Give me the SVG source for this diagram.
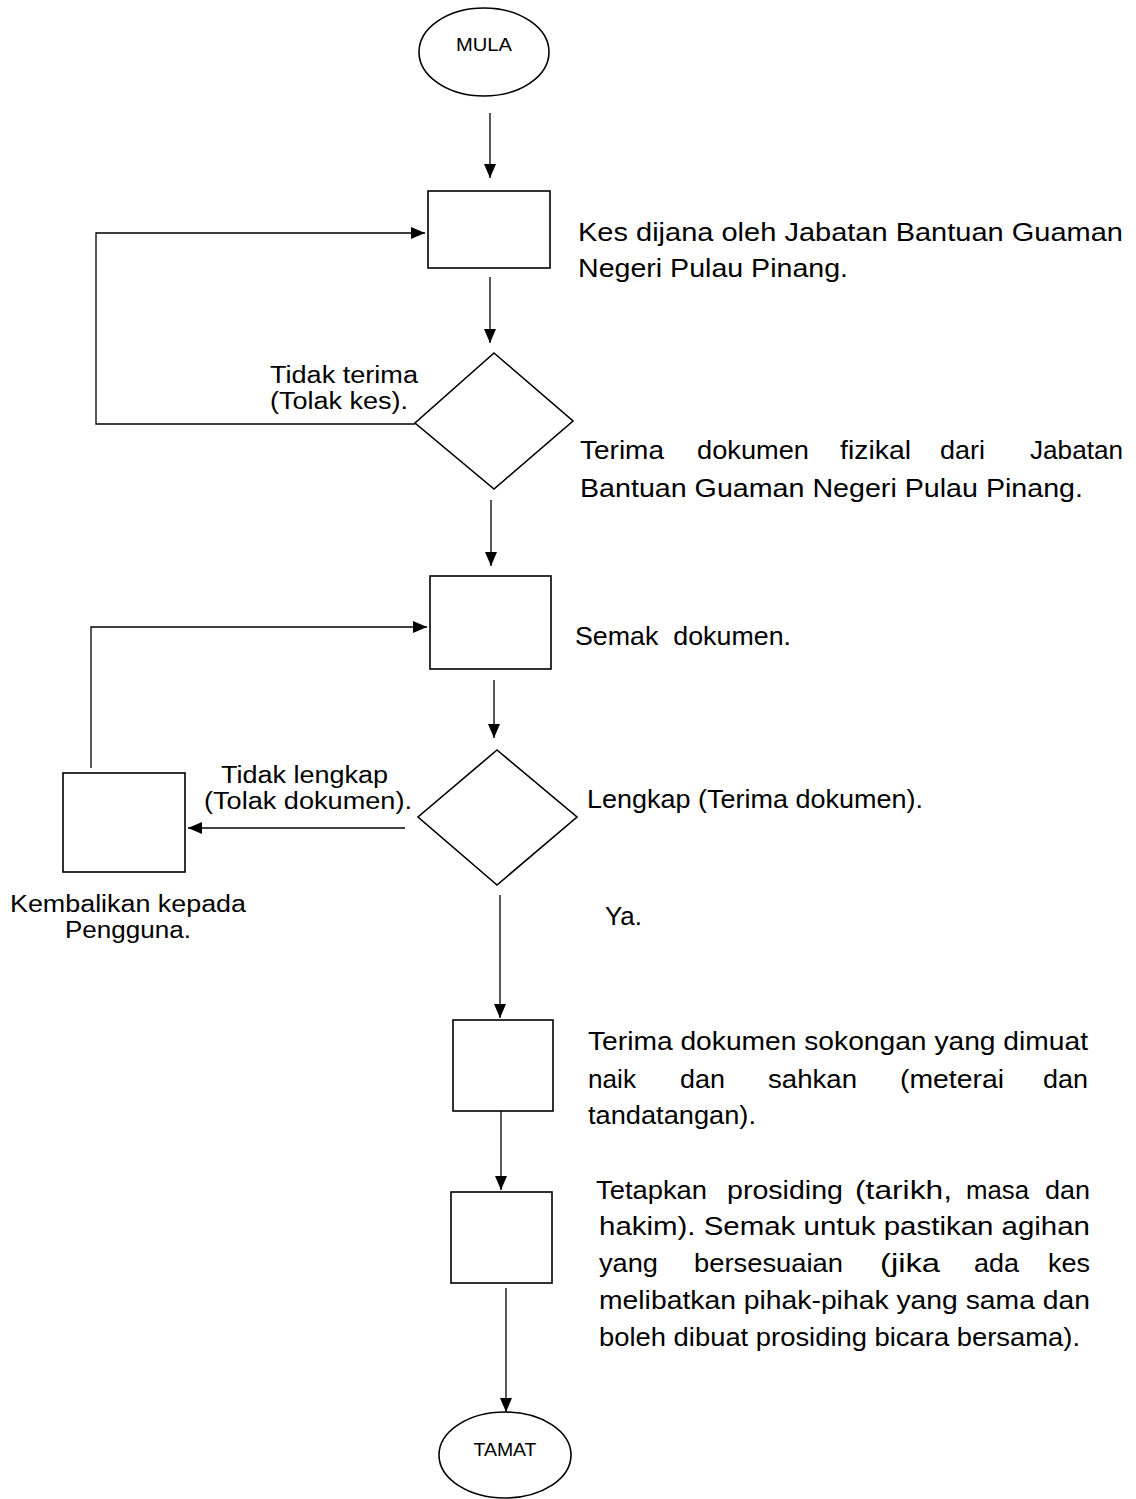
<svg xmlns="http://www.w3.org/2000/svg" width="1136" height="1499" viewBox="0 0 1136 1499">
<style>
.shape{fill:#fff;stroke:#000;stroke-width:1.6}
.conn{fill:none;stroke:#000;stroke-width:1.3}
text{font-family:"Liberation Sans",Arial,sans-serif;fill:#000}
.t{font-size:26px}
.l{font-size:23px}
.s{font-size:19px}
</style>
<defs>
<marker id="ah" markerUnits="userSpaceOnUse" markerWidth="14" markerHeight="12" refX="14" refY="6" orient="auto">
<path d="M0,0 L14,6 L0,12 z" fill="#000"/>
</marker>
</defs>
<rect width="1136" height="1499" fill="#fff"/>
<g id="connectors">
<path class="conn" d="M490,113 V178" marker-end="url(#ah)"/>
<path class="conn" d="M490,277 V343" marker-end="url(#ah)"/>
<path class="conn" d="M415,424 H96 V233 H425" marker-end="url(#ah)"/>
<path class="conn" d="M491,500 V566" marker-end="url(#ah)"/>
<path class="conn" d="M494,680 V738" marker-end="url(#ah)"/>
<path class="conn" d="M405,828 H188" marker-end="url(#ah)"/>
<path class="conn" d="M91,768 V627 H427" marker-end="url(#ah)"/>
<path class="conn" d="M500,895 V1018" marker-end="url(#ah)"/>
<path class="conn" d="M501,1111 V1190" marker-end="url(#ah)"/>
<path class="conn" d="M506,1288 V1412" marker-end="url(#ah)"/>
</g>
<g id="mula">
<ellipse class="shape" cx="484" cy="52" rx="65" ry="44"/>
<text class="s" x="484" y="51" text-anchor="middle" textLength="56" lengthAdjust="spacingAndGlyphs">MULA</text>
</g>
<g id="kes-dijana">
<rect class="shape" x="428" y="191" width="122" height="77"/>
<text class="t" x="578" y="241" textLength="545" lengthAdjust="spacingAndGlyphs">Kes dijana oleh Jabatan Bantuan Guaman</text>
<text class="t" x="578" y="277" textLength="270" lengthAdjust="spacingAndGlyphs">Negeri Pulau Pinang.</text>
</g>
<g id="terima-dokumen-fizikal">
<polygon class="shape" points="494,353 573,421 494,489 415,423"/>
<text class="t" y="459"><tspan x="580" textLength="84" lengthAdjust="spacingAndGlyphs">Terima</tspan><tspan x="697" textLength="112" lengthAdjust="spacingAndGlyphs">dokumen</tspan><tspan x="840" textLength="71" lengthAdjust="spacingAndGlyphs">fizikal</tspan><tspan x="940" textLength="45" lengthAdjust="spacingAndGlyphs">dari</tspan><tspan x="1030" textLength="93" lengthAdjust="spacingAndGlyphs">Jabatan</tspan></text>
<text class="t" x="580" y="497" textLength="503" lengthAdjust="spacingAndGlyphs">Bantuan Guaman Negeri Pulau Pinang.</text>
<text class="l" x="270" y="383" textLength="148" lengthAdjust="spacingAndGlyphs">Tidak terima</text>
<text class="l" x="270" y="409" textLength="138" lengthAdjust="spacingAndGlyphs">(Tolak kes).</text>
</g>
<g id="semak-dokumen">
<rect class="shape" x="430" y="576" width="121" height="93"/>
<text class="t" x="575" y="645" xml:space="preserve" textLength="216" lengthAdjust="spacingAndGlyphs">Semak  dokumen.</text>
</g>
<g id="lengkap">
<polygon class="shape" points="497,750 577,817 497,885 418,817"/>
<text class="t" x="587" y="808" textLength="336" lengthAdjust="spacingAndGlyphs">Lengkap (Terima dokumen).</text>
<text class="l" x="221" y="783" textLength="167" lengthAdjust="spacingAndGlyphs">Tidak lengkap</text>
<text class="l" x="204" y="809" textLength="208" lengthAdjust="spacingAndGlyphs">(Tolak dokumen).</text>
<text class="t" x="605" y="925" textLength="37" lengthAdjust="spacingAndGlyphs">Ya.</text>
</g>
<g id="kembalikan">
<rect class="shape" x="63" y="773" width="122" height="99"/>
<text class="l" x="128" y="912" text-anchor="middle" textLength="236" lengthAdjust="spacingAndGlyphs">Kembalikan kepada</text>
<text class="l" x="128" y="938" text-anchor="middle" textLength="126" lengthAdjust="spacingAndGlyphs">Pengguna.</text>
</g>
<g id="terima-sokongan">
<rect class="shape" x="453" y="1020" width="100" height="91"/>
<text class="t" x="588" y="1050" textLength="500" lengthAdjust="spacingAndGlyphs">Terima dokumen sokongan yang dimuat</text>
<text class="t" y="1088"><tspan x="588" textLength="48" lengthAdjust="spacingAndGlyphs">naik</tspan><tspan x="680" textLength="45" lengthAdjust="spacingAndGlyphs">dan</tspan><tspan x="768" textLength="89" lengthAdjust="spacingAndGlyphs">sahkan</tspan><tspan x="900" textLength="104" lengthAdjust="spacingAndGlyphs">(meterai</tspan><tspan x="1043" textLength="45" lengthAdjust="spacingAndGlyphs">dan</tspan></text>
<text class="t" x="588" y="1124" textLength="168" lengthAdjust="spacingAndGlyphs">tandatangan).</text>
</g>
<g id="tetapkan-prosiding">
<rect class="shape" x="451" y="1192" width="101" height="91"/>
<text class="t" y="1199"><tspan x="596" textLength="111" lengthAdjust="spacingAndGlyphs">Tetapkan</tspan><tspan x="727" textLength="116" lengthAdjust="spacingAndGlyphs">prosiding</tspan><tspan x="855" textLength="97" lengthAdjust="spacingAndGlyphs">(tarikh,</tspan><tspan x="966" textLength="63" lengthAdjust="spacingAndGlyphs">masa</tspan><tspan x="1045" textLength="45" lengthAdjust="spacingAndGlyphs">dan</tspan></text>
<text class="t" x="599" y="1235" textLength="491" lengthAdjust="spacingAndGlyphs">hakim). Semak untuk pastikan agihan</text>
<text class="t" y="1272"><tspan x="599" textLength="59" lengthAdjust="spacingAndGlyphs">yang</tspan><tspan x="694" textLength="149" lengthAdjust="spacingAndGlyphs">bersesuaian</tspan><tspan x="880" textLength="60" lengthAdjust="spacingAndGlyphs">(jika</tspan><tspan x="974" textLength="45" lengthAdjust="spacingAndGlyphs">ada</tspan><tspan x="1048" textLength="42" lengthAdjust="spacingAndGlyphs">kes</tspan></text>
<text class="t" x="599" y="1309" textLength="491" lengthAdjust="spacingAndGlyphs">melibatkan pihak-pihak yang sama dan</text>
<text class="t" x="599" y="1346" textLength="481" lengthAdjust="spacingAndGlyphs">boleh dibuat prosiding bicara bersama).</text>
</g>
<g id="tamat">
<ellipse class="shape" cx="505" cy="1455" rx="66" ry="43"/>
<text class="s" x="505" y="1456" text-anchor="middle" textLength="63" lengthAdjust="spacingAndGlyphs">TAMAT</text>
</g>
</svg>
